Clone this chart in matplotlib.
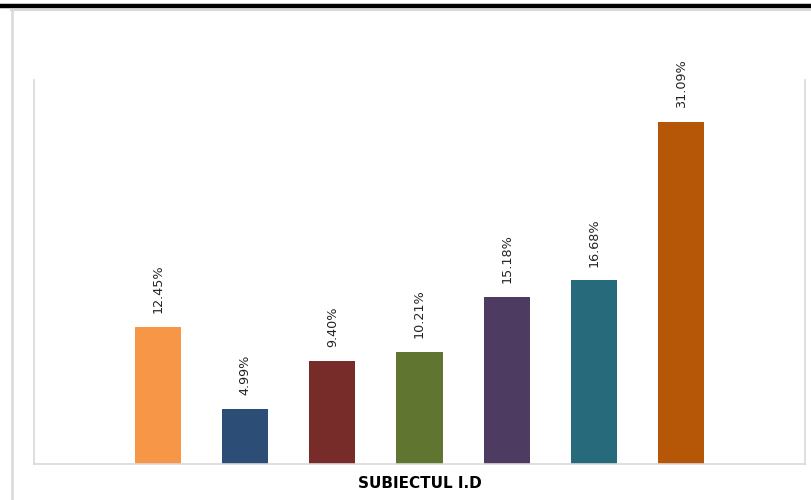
import matplotlib.pyplot as plt
from matplotlib.lines import Line2D

# date
valori = [12.45, 4.99, 9.40, 10.21, 15.18, 16.68, 31.09]
etichete = ["12.45%", "4.99%", "9.40%", "10.21%", "15.18%", "16.68%", "31.09%"]
pozitii = [1, 2, 3, 4, 5, 6, 7]
culori = ["#F79646", "#2C4D75", "#772C2A", "#5F7530", "#4D3B62", "#276A7C", "#B65708"]

fig = plt.figure(figsize=(8.12, 5.0), dpi=100)
ax = fig.add_axes([34 / 812, 1 - 464 / 500, (805 - 34) / 812, (464 - 80) / 500])

bars = ax.bar(pozitii, valori, width=0.53, color=culori)
for b, t in zip(bars, etichete):
    ax.annotate(t, (b.get_x() + b.get_width() / 2, b.get_height()),
                xytext=(0, 10), textcoords="offset points", rotation=90,
                ha="center", va="bottom", fontsize=9.2, color="#222222")

ax.set_xlim(-0.42, 8.42)
ax.set_ylim(0, 34.9)
ax.set_xticks([])
ax.set_yticks([])
ax.spines["top"].set_visible(False)
for s in ["left", "right", "bottom"]:
    ax.spines[s].set_color("#d9d9d9")
    ax.spines[s].set_linewidth(1.2)

ax.set_xlabel("SUBIECTUL I.D", fontsize=11, fontweight="bold", labelpad=9)

# chenar exterior
fig.add_artist(Line2D([0, 1], [1 - 6 / 500, 1 - 6 / 500], color="black", lw=3.2))
fig.add_artist(Line2D([11.5 / 812, 1], [1 - 9.5 / 500, 1 - 9.5 / 500], color="#d9d9d9", lw=1.5))
fig.add_artist(Line2D([12 / 812, 12 / 812], [0, 1 - 9.5 / 500], color="#d9d9d9", lw=1.8))

fig.savefig("out.png", dpi=100)
